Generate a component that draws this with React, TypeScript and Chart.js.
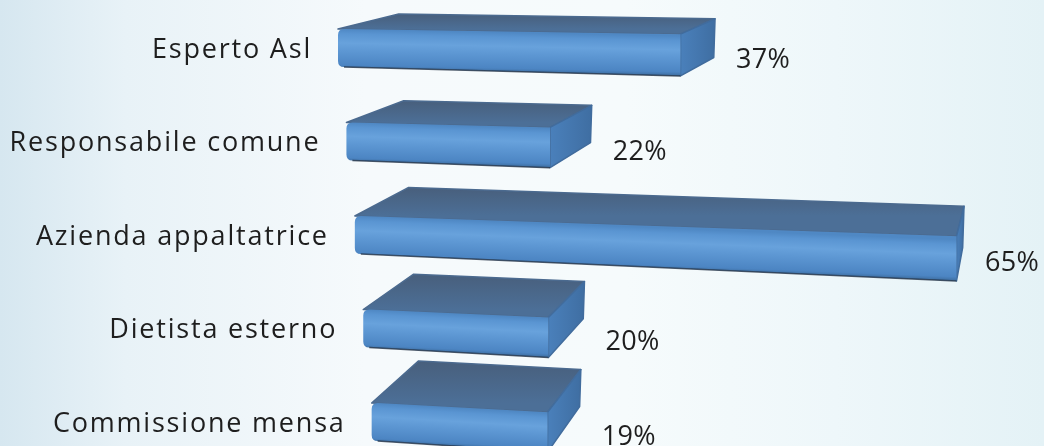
import React, { useEffect, useRef } from "react";
import { Chart, registerables } from "chart.js";

Chart.register(...registerables);

const categories = [
  "Esperto Asl",
  "Responsabile comune",
  "Azienda appaltatrice",
  "Dietista esterno",
  "Commissione mensa",
];
const values = [37, 22, 65, 20, 19];
const valueLabels = ["37%", "22%", "65%", "20%", "19%"];

const FONT = '400 27px "Open Sans", sans-serif';
const TEXT_COLOR = "#1e1e1e";

type P = [number, number];

const bar3DPlugin = {
  id: "bar3d",
  afterDatasetsDraw(chart: any) {
    const ctx: CanvasRenderingContext2D = chart.ctx;
    const meta = chart.getDatasetMeta(0);
    const left = chart.chartArea.left;
    const y0 = meta.data[0].y;
    const depth = (p: P): P => {
      const dx = 60 - 0.076 * (p[0] - left) - 0.03 * (p[1] - y0);
      const dy = -(15 + 0.0724 * (p[1] - y0 + 19));
      return [p[0] + dx, p[1] + dy];
    };
    const poly = (pts: P[]) => {
      ctx.beginPath();
      ctx.moveTo(pts[0][0], pts[0][1]);
      for (let k = 1; k < pts.length; k++) ctx.lineTo(pts[k][0], pts[k][1]);
      ctx.closePath();
    };
    meta.data.forEach((el: any, i: number) => {
      const { x, y, base, height } = el.getProps(["x", "y", "base", "height"], true);
      const t = y - y0;
      const shift = -2 + t * 0.09;
      const xs = base + shift;
      const xe = x + shift;
      const len = xe - xs;
      const h = height;
      const sTop = 0.015 + 0.0001 * t;
      const sBot = 0.026 + 0.0001 * t;
      const yT = y - h / 2;
      const yB = y + h / 2;
      const FTL: P = [xs, yT];
      const FTR: P = [xe, yT + sTop * len];
      const FBR: P = [xe, yB + sBot * len];
      const BTL = depth(FTL);
      const BTR = depth(FTR);
      const BBR = depth(FBR);

      ctx.save();
      ctx.lineJoin = "round";
      // top face
      poly([FTL, FTR, BTR, BTL]);
      const gTop = ctx.createLinearGradient(0, BTL[1], 0, FTL[1]);
      gTop.addColorStop(0, "#485f7c");
      gTop.addColorStop(1, "#4c6f97");
      ctx.fillStyle = gTop;
      ctx.fill();
      ctx.strokeStyle = "#4b6a8f";
      ctx.lineWidth = 1.5;
      ctx.stroke();

      // side face
      poly([FTR, BTR, BBR, FBR]);
      const gSide = ctx.createLinearGradient(FTR[0], 0, BTR[0], 0);
      gSide.addColorStop(0, "#4a80bb");
      gSide.addColorStop(1, "#3f6ea2");
      ctx.fillStyle = gSide;
      ctx.fill();
      ctx.strokeStyle = "#416c9d";
      ctx.stroke();

      // front face
      ctx.save();
      const r = 6;
      ctx.beginPath();
      ctx.moveTo(xs + r, yT);
      ctx.lineTo(FTR[0], FTR[1]);
      ctx.lineTo(FBR[0], FBR[1]);
      ctx.lineTo(xs + r, yB);
      ctx.quadraticCurveTo(xs, yB, xs, yB - r);
      ctx.lineTo(xs, yT + r);
      ctx.quadraticCurveTo(xs, yT, xs + r, yT);
      ctx.closePath();
      ctx.clip();
      const sMid = (sTop + sBot) / 2;
      ctx.translate(xs, 0);
      ctx.transform(1, sMid, 0, 1, 0, 0);
      const hh = h + ((sBot - sTop) * len) / 2;
      const gF = ctx.createLinearGradient(0, yT, 0, yT + hh);
      gF.addColorStop(0, "#4f88c4");
      gF.addColorStop(0.12, "#5a95d2");
      gF.addColorStop(0.35, "#68a2dc");
      gF.addColorStop(0.55, "#5d97d3");
      gF.addColorStop(0.9, "#4c85c3");
      gF.addColorStop(1, "#3d6d9f");
      ctx.fillStyle = gF;
      ctx.fillRect(-10, yT - 40, len + 20, hh + 80);
      ctx.restore();

      ctx.beginPath();
      ctx.moveTo(xs + r, yB);
      ctx.lineTo(FBR[0], FBR[1]);
      ctx.strokeStyle = "rgba(35,50,70,0.8)";
      ctx.lineWidth = 1.5;
      ctx.stroke();
      ctx.restore();

      // texts
      ctx.save();
      ctx.font = FONT;
      ctx.fillStyle = TEXT_COLOR;
      ctx.textBaseline = "middle";
      ctx.textAlign = "right";
      (ctx as any).letterSpacing = "1.8px";
      ctx.fillText(categories[i], xs - 26, y + 2);
      (ctx as any).letterSpacing = "0.3px";
      ctx.textAlign = "left";
      const lx = Math.max(FBR[0], BTR[0]) + 21;
      const ly = (FTR[1] + FBR[1]) / 2 + 5;
      ctx.fillText(valueLabels[i], lx, ly);
      ctx.restore();
    });
  },
};

export default function App() {
  const ref = useRef<HTMLCanvasElement>(null);
  useEffect(() => {
    document.body.style.margin = "0";
    const chart = new Chart(ref.current as HTMLCanvasElement, {
      type: "bar",
      data: {
        labels: categories,
        datasets: [
          {
            data: values,
            backgroundColor: "rgba(0,0,0,0)",
            borderWidth: 0,
            barThickness: 38,
          },
        ],
      },
      options: {
        indexAxis: "y",
        responsive: false,
        animation: false,
        layout: { padding: { left: 340, right: 19, top: 48, bottom: 24 } },
        scales: {
          x: { display: false, min: 0, max: 74 },
          y: { display: false, offset: false },
        },
        plugins: { legend: { display: false }, tooltip: { enabled: false } },
      },
      plugins: [bar3DPlugin],
    } as any);
    return () => chart.destroy();
  }, []);
  return (
    <div
      style={{
        position: "fixed",
        left: 0,
        top: 0,
        width: 1044,
        height: 446,
        background:
          "linear-gradient(90deg, #d6e7f0 0%, #e8f2f7 12%, #f6fafc 35%, #f6fbfc 60%, #eef7fa 80%, #e4f2f6 100%)",
      }}
    >
      <canvas ref={ref} width={1044} height={446} style={{ display: "block" }} />
    </div>
  );
}
